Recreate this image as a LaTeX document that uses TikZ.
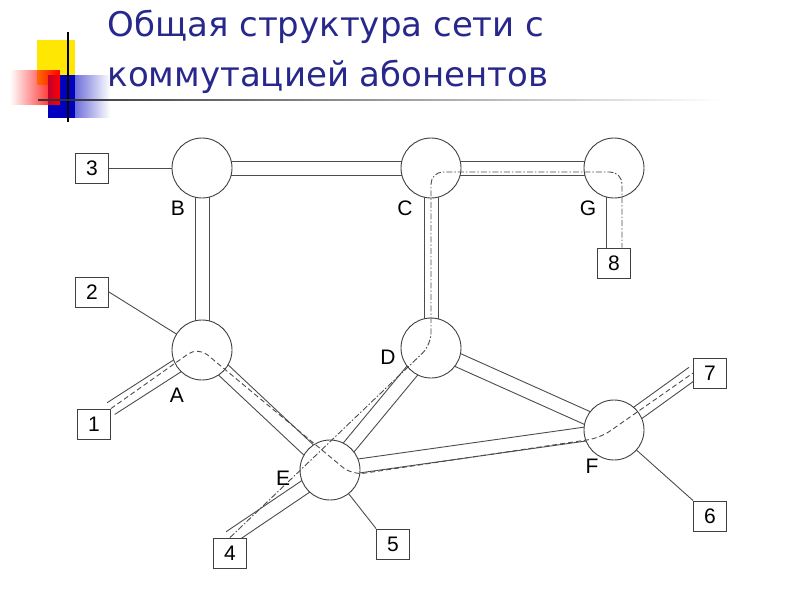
\documentclass[tikz,border=0pt]{standalone}
\usepackage{fontspec}
\setmainfont{DejaVu Sans}
\newfontfamily\labfont{Liberation Sans}
\usetikzlibrary{fadings,calc}
\definecolor{titleblue}{RGB}{40,40,140}
\newcommand\trunkline[2]{%
  \draw[sub] ($(#1)!7pt!90:(#2)$) -- ($(#2)!7pt!-90:(#1)$);
  \draw[sub] ($(#1)!7pt!-90:(#2)$) -- ($(#2)!7pt!90:(#1)$);}
\begin{document}
\begin{tikzpicture}[x=1pt,y=-1pt,
  hub/.style={circle,draw=black!75,fill=white,line width=0.9pt,minimum size=60pt,inner sep=0pt},
  term/.style={draw=black!75,fill=white,line width=0.9pt,minimum width=33pt,minimum height=30pt,inner sep=0pt,font=\labfont\fontsize{21}{21}\selectfont},
  lab/.style={font=\labfont\fontsize{21}{21}\selectfont},
  sub/.style={draw=black!70,line width=0.9pt},
  pathA/.style={draw=black!70,line width=0.9pt,dash pattern=on 5pt off 3pt,rounded corners=12pt},
  pathB/.style={draw=black!70,line width=0.9pt,dash pattern=on 6pt off 2pt on 1.5pt off 2pt,rounded corners=12pt}]
\useasboundingbox (0,0) rectangle (800,600);
% logo
\fill[yellow!90!orange] (37,40) rectangle (75,85);
\fill[blue!75!black,path fading=east] (48,75) rectangle (110,118);
\fill[blue!75!black] (48,75) rectangle (75,118);
\fill[red,path fading=west] (10,70) rectangle (60,105);
\draw[black,line width=1.5pt] (68,32) -- (68,122);
\draw[black!80,line width=1.5pt,path fading=east] (38,100) -- (720,100);
\node[anchor=west,text=titleblue,font=\fontsize{34}{34}\selectfont] (t1) at (104,27) {Общая структура сети с};
\node[anchor=west,text=titleblue,font=\fontsize{34}{34}\selectfont] (t2) at (104,77) {коммутацией абонентов};
% hubs coordinates
\coordinate (pB) at (202,168);
\coordinate (pC) at (431,168);
\coordinate (pG) at (614,168);
\coordinate (pA) at (202,350);
\coordinate (pD) at (431,348);
\coordinate (pE) at (330,470);
\coordinate (pF) at (614,430);
% terminals
\node[term] (t3) at (92,168) {3};
\node[term] (t2n) at (92,292) {2};
\node[term] (t1n) at (94,424) {1};
\node[term] (t4) at (230,553) {4};
\node[term] (t5) at (393,544) {5};
\node[term] (t6) at (710,516) {6};
\node[term] (t7) at (710,373) {7};
\node[term] (t8) at (614,263) {8};
\coordinate (c1) at (t1n.north east);
\coordinate (c4) at (t4.north);
\coordinate (c7) at (t7.west);
% trunks
\trunkline{pB}{pC}
\trunkline{pC}{pG}
\trunkline{pB}{pA}
\trunkline{pC}{pD}
\trunkline{pA}{pE}
\trunkline{pE}{pD}
\trunkline{pE}{pF}
\trunkline{pD}{pF}
\trunkline{c1}{pA}
\trunkline{c4}{pE}
\trunkline{c7}{pF}
% subscriber lines
\draw[sub] (t3) -- (pB);
\draw[sub] (t2n.east) -- (pA);
\draw[sub] (t5.north west) -- (pE);
\draw[sub] (t6.north west) -- (pF);
\draw[sub] ($(t8.north)+(-8,0)$) -- ($(pG)+(-8,0)$);
% hubs
\node[hub] (B) at (pB) {};
\node[hub] (C) at (pC) {};
\node[hub] (G) at (pG) {};
\node[hub] (A) at (pA) {};
\node[hub] (D) at (pD) {};
\node[hub] (E) at (pE) {};
\node[hub] (F) at (pF) {};
\node[term] at (t1n) {1};
\node[term] at (t4) {4};
\node[term] at (t7) {7};
\node[term] at (t8) {8};
% paths
\draw[pathA] (c1) -- (198,347) -- (352,475) -- (600,438) -- (c7);
\draw[pathB] (c4) -- (431,345) -- (431,172) -- (622,172) -- ($(t8.north)+(8,0)$);
% labels
\node[lab] (lB) at (178,208) {B};
\node[lab] (lC) at (405,208) {C};
\node[lab] (lG) at (588,208) {G};
\node[lab] (lA) at (177,395) {A};
\node[lab] (lD) at (388,357) {D};
\node[lab] (lE) at (283,478) {E};
\node[lab] (lF) at (592,466) {F};
\end{tikzpicture}
\end{document}
